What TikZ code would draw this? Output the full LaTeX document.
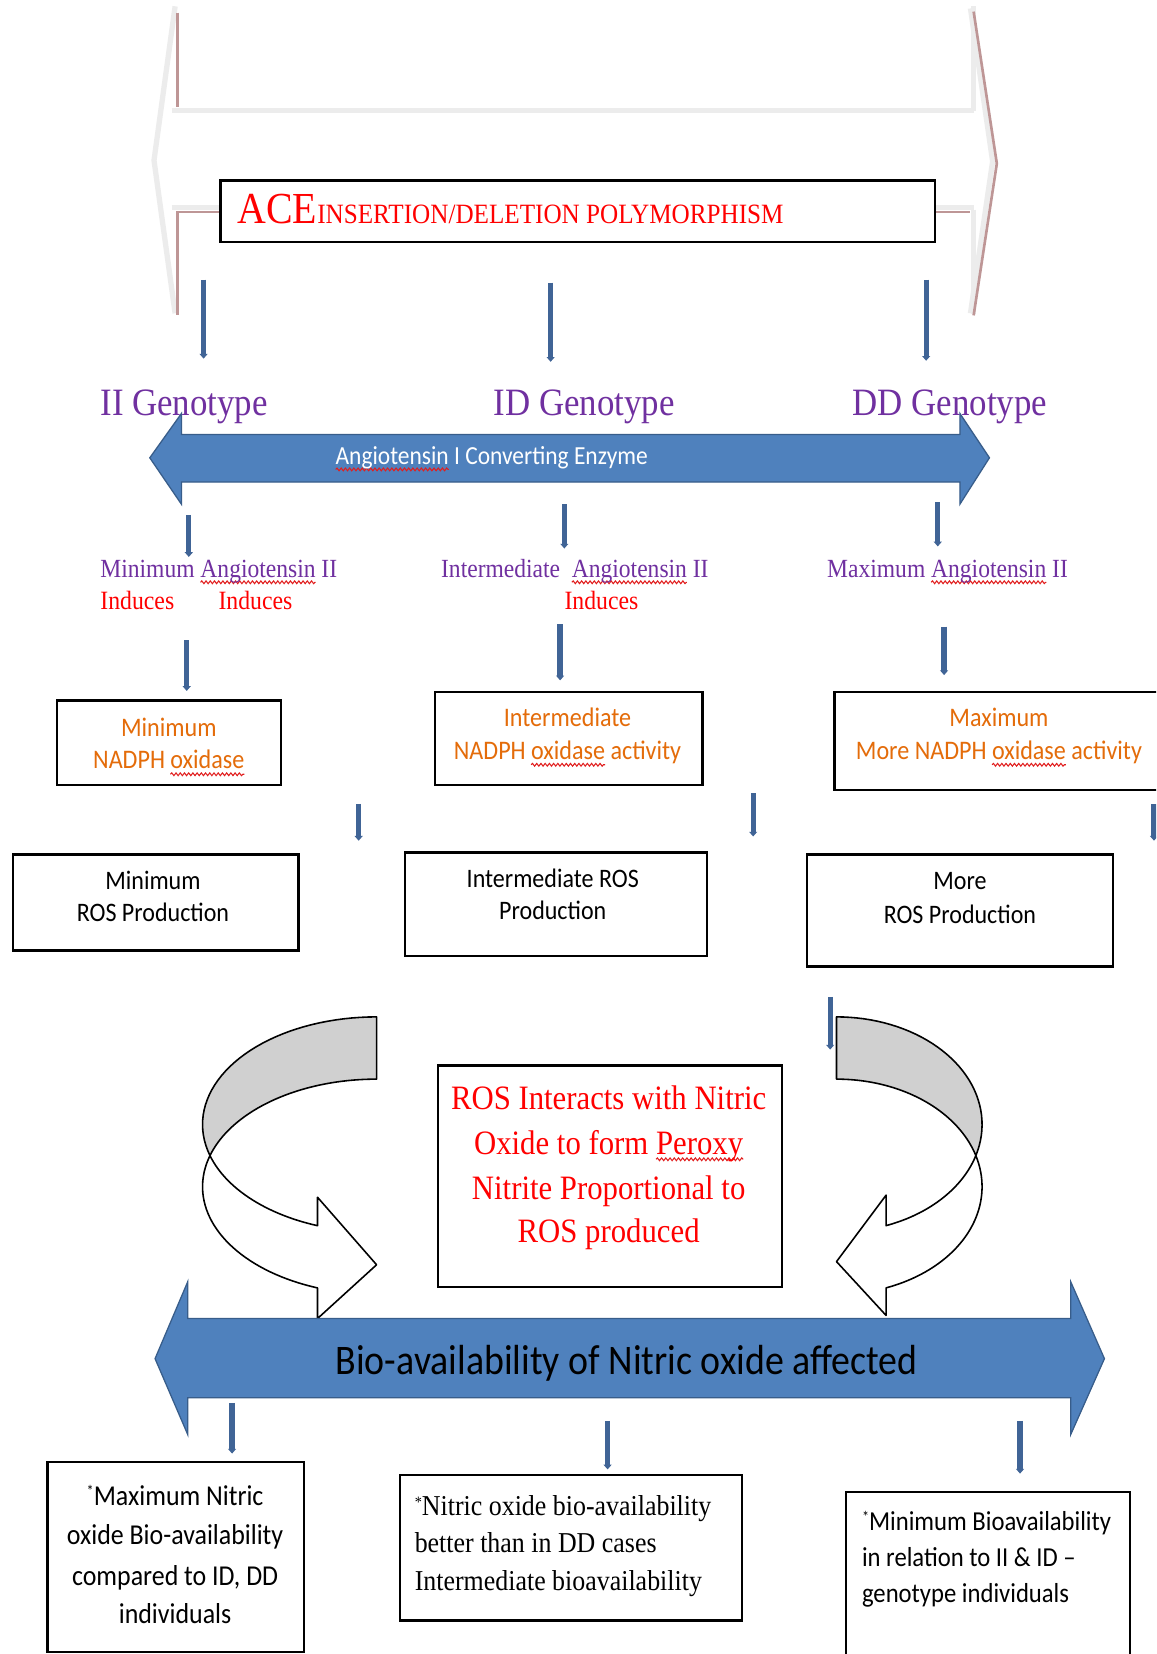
\documentclass[tikz,border=0pt]{standalone}
\usepackage{fontspec}
\usetikzlibrary{arrows.meta,decorations.pathmorphing}
\newfontfamily\srf[FakeStretch=0.9]{Liberation Serif}
\newfontfamily\snf[FakeStretch=0.9]{Carlito}
\newcommand\fsz[2]{\fontsize{#1}{#2}\selectfont}
\definecolor{purp}{RGB}{112,48,160}
\definecolor{orng}{RGB}{228,108,10}
\definecolor{bluef}{RGB}{79,129,189}
\definecolor{blued}{RGB}{56,93,138}
\definecolor{arrowc}{RGB}{64,100,150}
\definecolor{faintg}{RGB}{236,236,236}
\definecolor{rbrown}{RGB}{190,150,150}
\definecolor{grayf}{RGB}{208,208,208}
\definecolor{squig}{RGB}{225,30,30}
\newsavebox\sqbox
\newcommand\sq[1]{\sbox\sqbox{#1}\tikz[overlay,baseline=0pt,x=1pt,y=1pt]\draw[draw=squig,line width=1pt,decorate,decoration={snake,amplitude=1.3pt,segment length=4pt}] (0pt,-5pt) -- (\the\wd\sqbox,-5pt);\usebox\sqbox}
\newcommand\astx{\raisebox{8pt}{\fsz{15}{15}*}}
\tikzset{
  box/.style={draw=black, line width=2.2pt, fill=white, inner sep=0pt, anchor=north west},
  conn/.style={draw=arrowc, line width=5pt, -{Triangle[length=4.5pt,width=7.5pt]}},
  txt/.style={inner sep=0pt, anchor=base},
  ltxt/.style={inner sep=0pt, anchor=base west},
  faint/.style={draw=faintg, line width=5pt},
  redline/.style={draw=rbrown, line width=2.5pt},
  bigarrow/.style={fill=bluef, draw=blued, line width=1.2pt},
  curv/.style={draw=black, line width=1.5pt, line join=round},
  geno/.style={ltxt, text=purp, font=\srf\fsz{36.7}{40}},
  angl/.style={ltxt, text=purp, font=\srf\fsz{24.8}{28}},
  ind/.style={ltxt, text=red, font=\srf\fsz{25}{28}},
  orn/.style={txt, text=orng, font=\snf\fsz{25.4}{28}},
  ros/.style={txt, text=black, font=\snf\fsz{25.3}{28}},
  ctr/.style={txt, text=red, font=\srf\fsz{32.4}{36}},
  bxa/.style={txt, text=black, font=\snf\fsz{27.3}{30}},
  bxb/.style={ltxt, text=black, font=\srf\fsz{27.3}{30}},
  bxc/.style={ltxt, text=black, font=\snf\fsz{26}{30}},
}
\begin{document}
\begin{tikzpicture}[x=1pt,y=-1pt]
\useasboundingbox (0,0) rectangle (1096,1568);
\clip (0,0) rectangle (1096,1568);
\fill[white] (0,0) rectangle (1096,1568);

% faint top double arrow
\draw[faint] (166,6) -- (146,152) -- (166,297);
\draw[faint] (163,105) -- (923,105);
\draw[faint] (923,6) -- (923,105);
\draw[faint] (923,199) -- (923,298);
\draw[faint] (163,197) -- (208,197);
\draw[faint] (885,197) -- (923,197);
\draw[faint] (920,8) -- (941,153) -- (920,297);
\draw[redline] (168,12) -- (168,101);
\draw[redline] (208,201) -- (168,201) -- (168,299);
\draw[redline] (885,201) -- (920,201);
\draw[redline] (923,11) -- (945,155) -- (923,299);

% ACE box
\node[box, minimum width=677pt, minimum height=58pt] (ace) at (208,170) {};
\node[ltxt, text=red, font=\srf] (acet) at (225,212) {\fsz{42}{46}ACE\fsz{26.5}{30}INSERTION/DELETION POLYMORPHISM};

% genotype labels
\node[geno] (gII) at (95,394) {II Genotype};
\node[geno] (gID) at (468,394) {ID Genotype};
\node[geno] (gDD) at (808,394) {DD Genotype};

% ACE double arrow
\draw[bigarrow] (142,434) -- (172,392) -- (172,412) -- (910,412) -- (910,392) -- (938,434) -- (910,478) -- (910,457) -- (172,457) -- (172,478) -- cycle;
\node[ltxt, text=white, font=\snf\fsz{24.7}{28}] (enz) at (318,440) {\sq{Angiotensin} I Converting Enzyme};

% angiotensin II labels
\node[angl] (l1) at (95,547) {Minimum \sq{Angiotensin} II};
\node[angl] (l2) at (418,547) {Intermediate~ \sq{Angiotensin} II};
\node[angl] (l3) at (784,547) {Maximum \sq{Angiotensin} II};
\node[ind] (i1) at (95,578) {Induces};
\node[ind] (i2) at (207,578) {Induces};
\node[ind] (i3) at (535,578) {Induces};

% NADPH boxes
\node[box, minimum width=212pt, minimum height=80pt] (n1) at (53,663) {};
\node[box, minimum width=254pt, minimum height=88pt] (n2) at (411,655) {};
\node[box, minimum width=320pt, minimum height=93pt] (n3) at (790,655) {};
\node[orn] (n1a) at (160,698) {Minimum};
\node[orn] (n1b) at (160,729) {NADPH \sq{oxidase}};
\node[orn] (n2a) at (538,689) {Intermediate};
\node[orn] (n2b) at (538,720) {NADPH \sq{oxidase} activity};
\node[orn] (n3a) at (947,689) {Maximum};
\node[orn] (n3b) at (947,720) {More NADPH \sq{oxidase} activity};

% ROS boxes
\node[box, minimum width=271pt, minimum height=91pt] (r1) at (11,809) {};
\node[box, minimum width=286pt, minimum height=98pt] (r2) at (383,807) {};
\node[box, minimum width=290pt, minimum height=106pt] (r3) at (764,809) {};
\node[ros] (r1a) at (145,843) {Minimum};
\node[ros] (r1b) at (145,874) {ROS Production};
\node[ros] (r2a) at (524,841) {Intermediate ROS};
\node[ros] (r2b) at (524,872) {Production};
\node[ros] (r3a) at (910,843) {More};
\node[ros] (r3b) at (910,875) {ROS Production};

% curved arrows (left)
\draw[curv, fill=grayf] plot[domain=90:196.8, samples=40] ({357+165*cos(\x)},{1066-102*sin(\x)})
  -- plot[domain=163.2:90, samples=40] ({357+165*cos(\x)},{1125-102*sin(\x)}) -- cycle;
\draw[curv, fill=white] plot[domain=196.8:250.16, samples=30] ({357+165*cos(\x)},{1066-102*sin(\x)})
  -- (301,1135) -- (357,1199) -- (301,1250) -- (301,1221)
  -- plot[domain=250.16:163.2, samples=40] ({357+165*cos(\x)},{1125-102*sin(\x)}) -- cycle;
% curved arrows (right)
\draw[curv, fill=grayf] plot[domain=90:-16.8, samples=40] ({793+138*cos(\x)},{1066-102*sin(\x)})
  -- plot[domain=16.8:90, samples=40] ({793+138*cos(\x)},{1125-102*sin(\x)}) -- cycle;
\draw[curv, fill=white] plot[domain=-16.8:-70.09, samples=30] ({793+138*cos(\x)},{1066-102*sin(\x)})
  -- (840,1133) -- (793,1196) -- (840,1247) -- (840,1221)
  -- plot[domain=-70.09:16.8, samples=40] ({793+138*cos(\x)},{1125-102*sin(\x)}) -- cycle;

% centre box
\node[box, minimum width=326pt, minimum height=210pt] (ctr) at (414,1009) {};
\node[ctr] (c1) at (577,1052) {ROS Interacts with Nitric};
\node[ctr] (c2) at (577,1094) {Oxide to form \sq{Peroxy}};
\node[ctr] (c3) at (577,1137) {Nitrite Proportional to};
\node[ctr] (c4) at (577,1178) {ROS produced};

% bio-availability double arrow
\draw[bigarrow] (147,1288) -- (178,1215) -- (178,1250) -- (1015,1250) -- (1015,1215) -- (1047,1288) -- (1015,1360) -- (1015,1325) -- (178,1325) -- (178,1360) -- cycle;
\node[ltxt, text=black, font=\snf\fsz{39.9}{44}] (bio) at (318,1303) {Bio-availability of Nitric oxide affected};

% bottom boxes
\node[box, minimum width=243pt, minimum height=180pt] (b1) at (44,1385) {};
\node[box, minimum width=324pt, minimum height=138pt] (b2) at (378,1397) {};
\node[box, minimum width=269pt, minimum height=200pt] (b3) at (801,1413) {};
\node[bxa] (b1a) at (166,1427) {\astx Maximum Nitric};
\node[bxa] (b1b) at (166,1464) {oxide Bio-availability};
\node[bxa] (b1c) at (166,1503) {compared to ID, DD};
\node[bxa] (b1d) at (166,1539) {individuals};
\node[bxb] (b2a) at (393,1437) {\astx Nitric oxide bio-availability};
\node[bxb] (b2b) at (393,1472) {better than in DD cases};
\node[bxb] (b2c) at (393,1508) {Intermediate bioavailability};
\node[bxc] (b3a) at (817,1451) {\astx Minimum Bioavailability};
\node[bxc] (b3b) at (817,1485) {in relation to II \& ID –};
\node[bxc] (b3c) at (817,1519) {genotype individuals};

% connectors
\foreach \n/\x/\ya/\yb in {1/193/265/340, 2/522/268/343, 3/878/265/342,
  4/179/488/528, 5/535/478/520, 6/889/476/518,
  7/177/607/655, 8/531/592/645, 9/895/594/640,
  10/340/762/797, 11/714/752/793, 12/1094/762/797,
  13/787/945/995, 14/220/1330/1378, 15/576/1347/1393, 16/967/1347/1397} {
  \coordinate (s\n) at (\x,\ya);
  \coordinate (e\n) at (\x,\yb);
  \draw[conn] (s\n) -- (e\n);
}
\end{tikzpicture}
\end{document}
